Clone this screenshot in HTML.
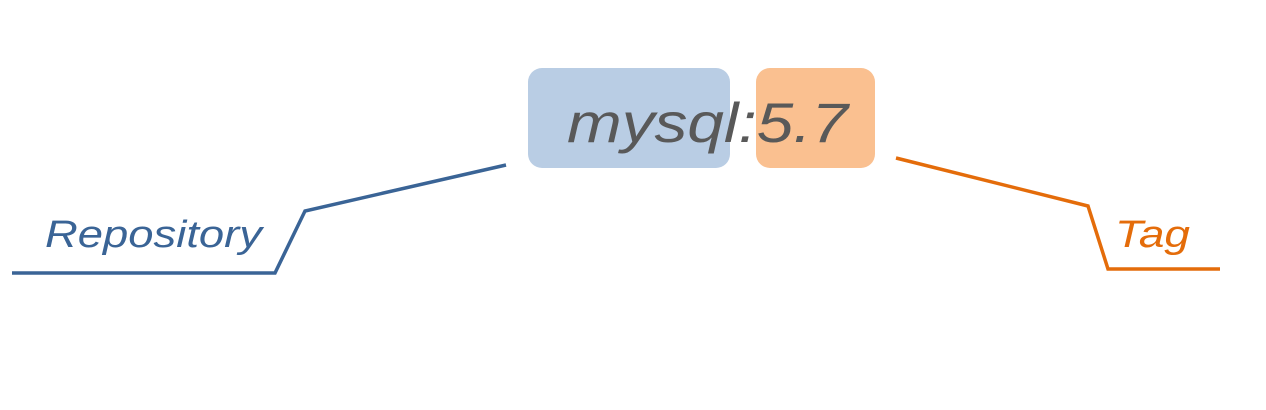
<!DOCTYPE html>
<html><head><meta charset="utf-8"><style>
html,body{margin:0;padding:0;background:#fff;}
body{width:1266px;height:405px;overflow:hidden;}
</style></head><body>
<svg width="1266" height="405" viewBox="0 0 1266 405" xmlns="http://www.w3.org/2000/svg">
<rect x="528" y="68" width="202" height="100" rx="14" fill="#b9cde4"/>
<rect x="756" y="68" width="119" height="100" rx="14" fill="#fac090"/>
<text x="567" y="142" font-family="Liberation Sans, sans-serif" font-style="italic" font-size="56" fill="#595959" textLength="281" lengthAdjust="spacingAndGlyphs">mysql:5.7</text>
<polyline points="506,165 305,211 275,273 12,273" fill="none" stroke="#3a6496" stroke-width="3.5"/>
<polyline points="896,158 1088,206 1108,269 1220,269" fill="none" stroke="#e46c0a" stroke-width="3.5"/>
<text x="45" y="247" font-family="Liberation Sans, sans-serif" font-style="italic" font-size="38" fill="#3a6496" textLength="217" lengthAdjust="spacingAndGlyphs">Repository</text>
<text x="1115" y="247" font-family="Liberation Sans, sans-serif" font-style="italic" font-size="38" fill="#e46c0a" textLength="75" lengthAdjust="spacingAndGlyphs">Tag</text>
</svg>
</body></html>
